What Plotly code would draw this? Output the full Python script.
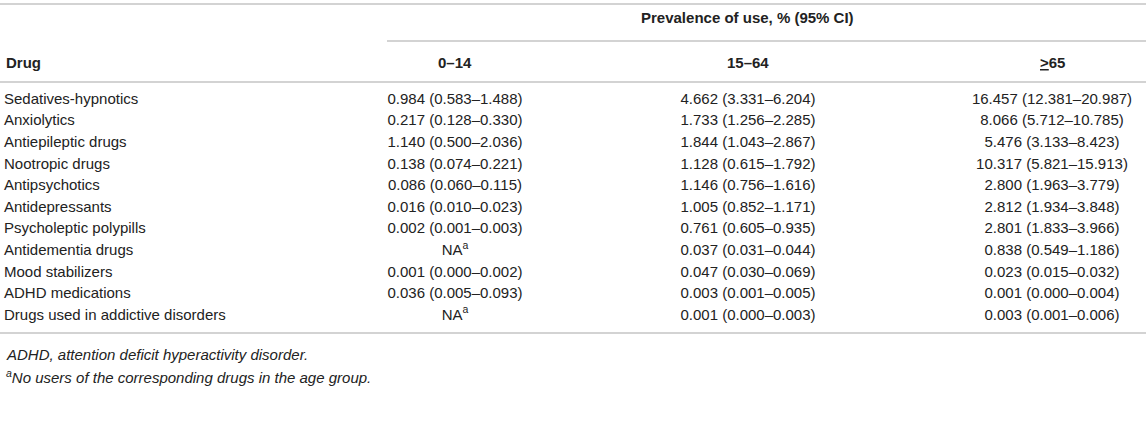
import plotly.graph_objects as go

drugs = [
    "Sedatives-hypnotics",
    "Anxiolytics",
    "Antiepileptic drugs",
    "Nootropic drugs",
    "Antipsychotics",
    "Antidepressants",
    "Psycholeptic polypills",
    "Antidementia drugs",
    "Mood stabilizers",
    "ADHD medications",
    "Drugs used in addictive disorders",
]

age_groups = ["0–14", "15–64", "<u>></u>65"]

# prevalence (%) with 95% CI bounds; None = no users in the age group
est_0_14 = [0.984, 0.217, 1.140, 0.138, 0.086, 0.016, 0.002, None, 0.001, 0.036, None]
lo_0_14 = [0.583, 0.128, 0.500, 0.074, 0.060, 0.010, 0.001, None, 0.000, 0.005, None]
hi_0_14 = [1.488, 0.330, 2.036, 0.221, 0.115, 0.023, 0.003, None, 0.002, 0.093, None]

est_15_64 = [4.662, 1.733, 1.844, 1.128, 1.146, 1.005, 0.761, 0.037, 0.047, 0.003, 0.001]
lo_15_64 = [3.331, 1.256, 1.043, 0.615, 0.756, 0.852, 0.605, 0.031, 0.030, 0.001, 0.000]
hi_15_64 = [6.204, 2.285, 2.867, 1.792, 1.616, 1.171, 0.935, 0.044, 0.069, 0.005, 0.003]

est_65 = [16.457, 8.066, 5.476, 10.317, 2.800, 2.812, 2.801, 0.838, 0.023, 0.001, 0.003]
lo_65 = [12.381, 5.712, 3.133, 5.821, 1.963, 1.934, 1.833, 0.549, 0.015, 0.000, 0.001]
hi_65 = [20.987, 10.785, 8.423, 15.913, 3.779, 3.848, 3.966, 1.186, 0.032, 0.004, 0.006]

footnotes = [
    "<i>ADHD, attention deficit hyperactivity disorder.</i>",
    "<i><sup>a</sup>No users of the corresponding drugs in the age group.</i>",
]

FONT = "Arial, Liberation Sans, Helvetica, sans-serif"
TEXT_COLOR = "#222222"
LINE_COLOR = "#c4c4c4"
FONT_SIZE = 15

W, H = 1146, 438
LEFT = 4
ROW0, ROW_STEP = 100, 21.6
col_x = [455, 748, 1052]


def fmt(est, lo, hi):
    if est is None:
        return "NA<sup>a</sup>"
    return f"{est:.3f} ({lo:.3f}–{hi:.3f})"


row_y = [ROW0 + i * ROW_STEP for i in range(len(drugs))]

fig = go.Figure()

# drug name column
fig.add_trace(
    go.Scatter(
        x=[LEFT] * len(drugs),
        y=row_y,
        text=drugs,
        mode="text",
        textposition="middle right",
        textfont=dict(family=FONT, size=FONT_SIZE, color=TEXT_COLOR),
        hoverinfo="skip",
    )
)

columns = [
    (est_0_14, lo_0_14, hi_0_14),
    (est_15_64, lo_15_64, hi_15_64),
    (est_65, lo_65, hi_65),
]
for cx, (est, lo, hi) in zip(col_x, columns):
    fig.add_trace(
        go.Scatter(
            x=[cx] * len(drugs),
            y=row_y,
            text=[fmt(e, l, h) for e, l, h in zip(est, lo, hi)],
            mode="text",
            textposition="middle center",
            textfont=dict(family=FONT, size=FONT_SIZE, color=TEXT_COLOR),
            hoverinfo="skip",
        )
    )

# header
annotations = [
    dict(x=747, y=17, text="<b>Prevalence of use, % (95% CI)</b>", xanchor="center"),
    dict(x=LEFT, y=62, text="<b>Drug</b>", xanchor="left"),
]
for cx, label in zip(col_x, age_groups):
    annotations.append(dict(x=cx, y=62, text=f"<b>{label}</b>", xanchor="center"))
for i, note in enumerate(footnotes):
    annotations.append(dict(x=LEFT, y=354 + i * 22, text=note, xanchor="left"))

for a in annotations:
    a.update(
        xref="x", yref="y", yanchor="middle", showarrow=False,
        font=dict(family=FONT, size=FONT_SIZE, color=TEXT_COLOR),
    )

# horizontal rules
rules = [(0, W, 4), (387, W, 41), (0, W, 82), (0, W, 333)]
shapes = [
    dict(type="line", xref="x", yref="y", x0=x0, x1=x1, y0=y, y1=y,
         line=dict(color=LINE_COLOR, width=1.5))
    for x0, x1, y in rules
]

fig.update_layout(
    width=W,
    height=H,
    margin=dict(l=0, r=0, t=0, b=0),
    paper_bgcolor="white",
    plot_bgcolor="white",
    showlegend=False,
    annotations=annotations,
    shapes=shapes,
    xaxis=dict(range=[0, W], visible=False, fixedrange=True),
    yaxis=dict(range=[H, 0], visible=False, fixedrange=True),
)

fig.write_html(
    "out.html",
    config={"displayModeBar": False},
    post_script="document.body.style.margin = '0';",
)
